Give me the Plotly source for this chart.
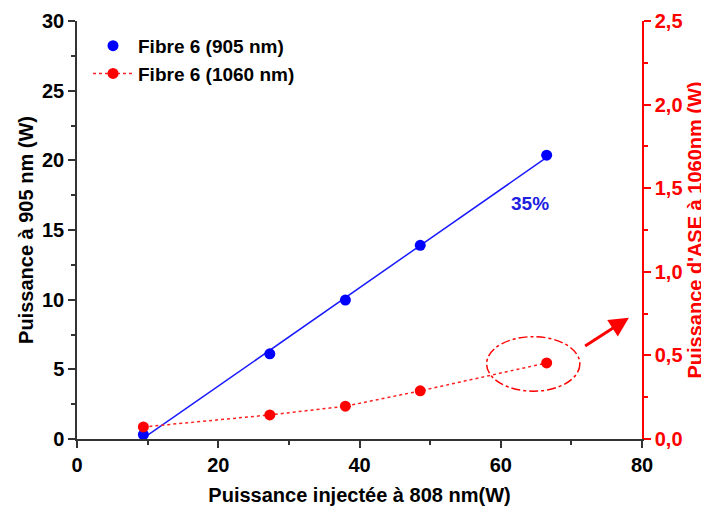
import numpy as np
import plotly.graph_objects as go

pump_w = [9.4, 27.3, 38.0, 48.6, 66.5]
p905_w = [0.32, 6.11, 9.97, 13.9, 20.37]
p1060_w = [0.072, 0.144, 0.196, 0.288, 0.455]
eff_label = "35%"

FONT = "Liberation Sans, Arial, sans-serif"

slope, icpt = np.polyfit(pump_w, p905_w, 1)
fit_x = [pump_w[0], pump_w[-1]]
fit_y = [slope * v + icpt for v in fit_x]

fig = go.Figure()
fig.add_trace(go.Scatter(x=fit_x, y=fit_y, mode="lines", line=dict(color="#1a1aff", width=1.5),
                         showlegend=False, hoverinfo="skip"))
fig.add_trace(go.Scatter(x=pump_w, y=p905_w, mode="markers", name="Fibre 6 (905 nm)",
                         marker=dict(color="#0000ff", size=11)))
fig.add_trace(go.Scatter(x=pump_w, y=p1060_w, mode="lines+markers", name="Fibre 6 (1060 nm)",
                         yaxis="y2", line=dict(color="#ff2020", width=1.5, dash="3px,3px"),
                         marker=dict(color="#ff0000", size=11)))

tick_font = dict(family=FONT, size=20, color="black", weight="bold")
fig.update_layout(
    width=701, height=498,
    margin=dict(l=69, r=67, t=13, b=67),
    plot_bgcolor="white", paper_bgcolor="white",
    separators=",.",
    font=dict(family=FONT),
    xaxis=dict(range=[0, 80], tick0=0, dtick=20, ticks="outside", ticklen=7, tickwidth=1.5,
               automargin=False,
               tickcolor="#333", showline=True, linecolor="#333", linewidth=1.5,
               minor=dict(dtick=10, ticks="outside", ticklen=4, tickwidth=1.5, tickcolor="#333"),
               showgrid=False, zeroline=False, tickfont=tick_font,
               title=dict(text="Puissance injectée à 808 nm(W)", standoff=14,
                          font=dict(family=FONT, size=20, color="black", weight="bold"))),
    xaxis2=dict(range=[0, 80], overlaying="x", side="top", anchor="y", dtick=20, ticks="inside",
                automargin=False,
                ticklen=5, tickwidth=1.5, tickcolor="#333", showline=True, linecolor="#333",
                linewidth=1.5, minor=dict(dtick=10, ticks="inside", ticklen=5, tickwidth=1.5, tickcolor="#333"),
                showticklabels=False, showgrid=False, zeroline=False),
    yaxis=dict(range=[0, 30], dtick=5, ticks="outside", ticklen=7, tickwidth=1.5, tickcolor="#333",
               automargin=False,
               showline=True, linecolor="#333", linewidth=1.5,
               minor=dict(dtick=2.5, ticks="outside", ticklen=4, tickwidth=1.5, tickcolor="#333"),
               showgrid=False, zeroline=False, tickfont=tick_font,
               title=dict(text="Puissance à 905 nm (W)", standoff=3,
                          font=dict(family=FONT, size=20, color="black", weight="bold"))),
    yaxis2=dict(range=[0, 2.5], dtick=0.5, tickformat=".1f", overlaying="y", side="right",
                automargin=False,
                ticks="outside", ticklen=7, tickwidth=1.5, tickcolor="#ff0000",
                showline=True, linecolor="#ff0000", linewidth=1.5,
                minor=dict(dtick=0.25, ticks="outside", ticklen=4, tickwidth=1.5, tickcolor="#ff0000"),
                showgrid=False, zeroline=False,
                tickfont=dict(family=FONT, size=20, color="#ff0000", weight="bold"),
                title=dict(text="Puissance d'ASE à 1060nm (W)", standoff=6,
                           font=dict(family=FONT, size=20, color="#ff0000", weight="bold"))),
    legend=dict(x=0.0195, y=0.986, xanchor="left", yanchor="top", bgcolor="rgba(0,0,0,0)",
                itemwidth=40,
                font=dict(family=FONT, size=19, color="black", weight="bold"), tracegroupgap=0),
    showlegend=True,
)

fig.add_annotation(x=64.1, y=16.9, xref="x", yref="y", text=eff_label, showarrow=False,
                   font=dict(family=FONT, size=19, color="#2020e0", weight="bold"))

fig.add_shape(type="circle", xref="x", yref="y2", x0=58.0, x1=71.2, y0=0.286, y1=0.612,
              line=dict(color="#ff0000", width=1.5, dash="dashdot"))

fig.add_annotation(x=78.15, y=0.725, xref="x", yref="y2", ax=71.74, ay=0.551, axref="x", ayref="y2",
                   text="", showarrow=True, arrowhead=2, arrowsize=1.3, arrowwidth=3, arrowcolor="#ff0000")

fig.write_html("out.html")
